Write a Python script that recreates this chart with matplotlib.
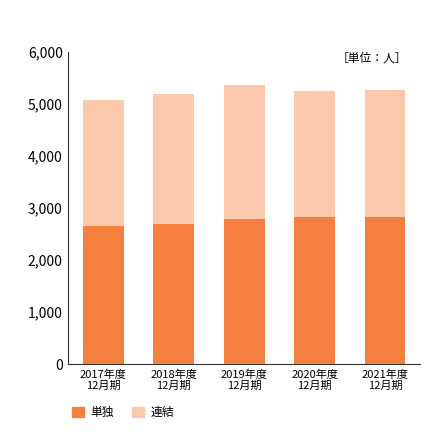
import matplotlib
matplotlib.use("Agg")
import matplotlib.pyplot as plt
from matplotlib.patches import Patch

plt.rcParams['font.family'] = ['Noto Sans CJK JP', 'DejaVu Sans']

categories = ["2017年度\n12月期", "2018年度\n12月期", "2019年度\n12月期", "2020年度\n12月期", "2021年度\n12月期"]
single = [2655, 2695, 2785, 2825, 2825]
consolidated = [5080, 5195, 5365, 5250, 5270]

c1 = "#F47F3E"
c2 = "#FBC8AB"

fig = plt.figure(figsize=(4.4, 4.4), dpi=100)
ax = fig.add_axes([0.155, 0.172, 0.80, 0.71])
x = list(range(len(categories)))
ax.bar(x, consolidated, width=0.58, color=c2, zorder=2)
ax.bar(x, single, width=0.58, color=c1, zorder=3)
ax.set_xlim(-0.5, 4.5)
ax.set_ylim(0, 6000)
ax.set_yticks(range(0, 6001, 1000))
ax.set_yticklabels([f"{v:,}" for v in range(0, 6001, 1000)], fontsize=10)
ax.set_xticks(x)
ax.set_xticklabels(categories, fontsize=8, linespacing=1.1)
for s in ["top", "right"]:
    ax.spines[s].set_visible(False)
ax.spines["left"].set_color("#333333")
ax.spines["bottom"].set_color("#333333")
ax.tick_params(axis="both", length=0, pad=4)
fig.text(0.925, 0.868, "［単位：人］", ha="right", va="center", fontsize=8.5)
ax.legend(handles=[Patch(color=c1, label="単独"), Patch(color=c2, label="連結")],
          loc="upper left", bbox_to_anchor=(-0.02, -0.10), ncol=2, frameon=False,
          fontsize=8.5, handlelength=1.0, handleheight=1.0, columnspacing=1.5, handletextpad=0.6)
fig.savefig("out.png", dpi=100)
